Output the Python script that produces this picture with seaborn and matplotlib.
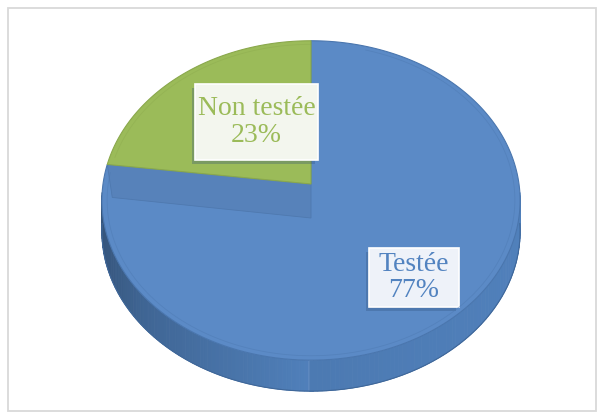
import numpy as np
import seaborn as sns
import matplotlib.pyplot as plt
from matplotlib.patches import Polygon, Rectangle
from matplotlib.colors import to_rgb

labels = ["Testée", "Non testée"]
values = [77, 23]
top_colors = ["#5B8AC6", "#9BBB59"]
edge_colors = ["#4A76AE", "#8AA84C"]
text_colors = ["#5283C0", "#9BBB59"]
box_colors = ["#EEF2F9", "#F3F6EE"]

sns.set_style("white")
plt.rcParams['font.family'] = ['Liberation Serif', 'DejaVu Serif']

fig = plt.figure(figsize=(6.03, 4.18), dpi=100)
ax = fig.add_axes([0, 0, 1, 1])
ax.set_xlim(0, 603)
ax.set_ylim(418, 0)
ax.axis('off')

# chart frame
ax.add_patch(Rectangle((7.5, 7.5), 588, 403, fill=False, edgecolor="#D9D9D9", lw=1.3))

# pie geometry (pixels), slight perspective tilt
cx, cy0 = 311, 184
B, A, k = 208, 158, 0.103
depth = 31


def rim(theta):
    u, v = np.sin(theta), np.cos(theta)
    s = 1 + k * v
    return cx + B * u / s, cy0 - A * v / s


fracs = np.cumsum([0] + values) / sum(values)
angles = 2 * np.pi * fracs

# side band, shaded darker towards the left
t0, t1 = np.arccos(-k), 2 * np.pi - np.arccos(-k)
ts = np.linspace(t0 - 0.05, t1 + 0.05, 160)
side_base = np.array(to_rgb("#5080BB"))
for a, b in zip(ts[:-1], ts[1:]):
    xa, ya = rim(a)
    xb, yb = rim(b)
    u = np.sin((a + b) / 2)
    f = 0.95 + 0.05 * u if u > 0 else 1.0 + 0.28 * u
    f = f - 0.06 * max(0, -u - 0.75) * 4
    col = np.clip(side_base * f, 0, 1)
    ax.add_patch(Polygon([(xa, ya), (xb, yb), (xb, yb + depth), (xa, ya + depth)],
                         closed=True, facecolor=col, edgecolor=col, lw=0.6))
xs, ys = rim(ts)
ax.plot(xs, ys + depth, color="#3F6799", lw=0.8)

# blue top face
t = np.linspace(angles[0], angles[1], 300)
px, py = rim(t)
ax.add_patch(Polygon(np.column_stack([np.r_[cx, px], np.r_[cy0, py]]), closed=True,
                     facecolor=top_colors[0], edgecolor=edge_colors[0], lw=0.8))

# faint rim line on the blue top face
tt = np.linspace(0.3, angles[1] - 0.05, 300)
rx, ry = rim(tt)
ax.plot(cx + (rx - cx) * 0.975, cy0 + (ry - cy0) * 0.975, color="#4C78B0", lw=0.6, alpha=0.45)

# radial wall under the small slice
xg, yg = rim(angles[1])
ax.add_patch(Polygon([(xg, yg), (cx, cy0), (cx, cy0 + depth + 3), (xg + 5, yg + depth + 2)],
                     closed=True, facecolor="#5782BA", edgecolor="#4F79AF", lw=0.6))

# green top face
t = np.linspace(angles[1], angles[2], 120)
px, py = rim(t)
ax.add_patch(Polygon(np.column_stack([np.r_[cx, px], np.r_[cy0, py]]), closed=True,
                     facecolor=top_colors[1], edgecolor=edge_colors[1], lw=0.8))
tg = np.linspace(angles[1] + 0.05, angles[2], 120)
gx, gy = rim(tg)
ax.plot(cx + (gx - cx) * 0.975, cy0 + (gy - cy0) * 0.975, color="#8AA84C", lw=0.6, alpha=0.4)

# data labels
label_pos = [(414, 277.5, 90, 59), (256.5, 122, 123, 76)]
for lab, val, (lx, ly, w, h), bc, tc in zip(labels, values, label_pos, box_colors, text_colors):
    ax.add_patch(Rectangle((lx - w / 2 - 3, ly - h / 2 + 4), w, h, facecolor="#2F4F7A",
                           alpha=0.3, edgecolor="none"))
    ax.add_patch(Rectangle((lx - w / 2, ly - h / 2), w, h, facecolor=bc,
                           edgecolor="white", lw=1.2))
    ax.text(lx, ly, f"{lab}\n{val}%", ha="center", va="center", fontsize=20,
            color=tc, linespacing=1.1)

fig.savefig("out.png", dpi=100)
